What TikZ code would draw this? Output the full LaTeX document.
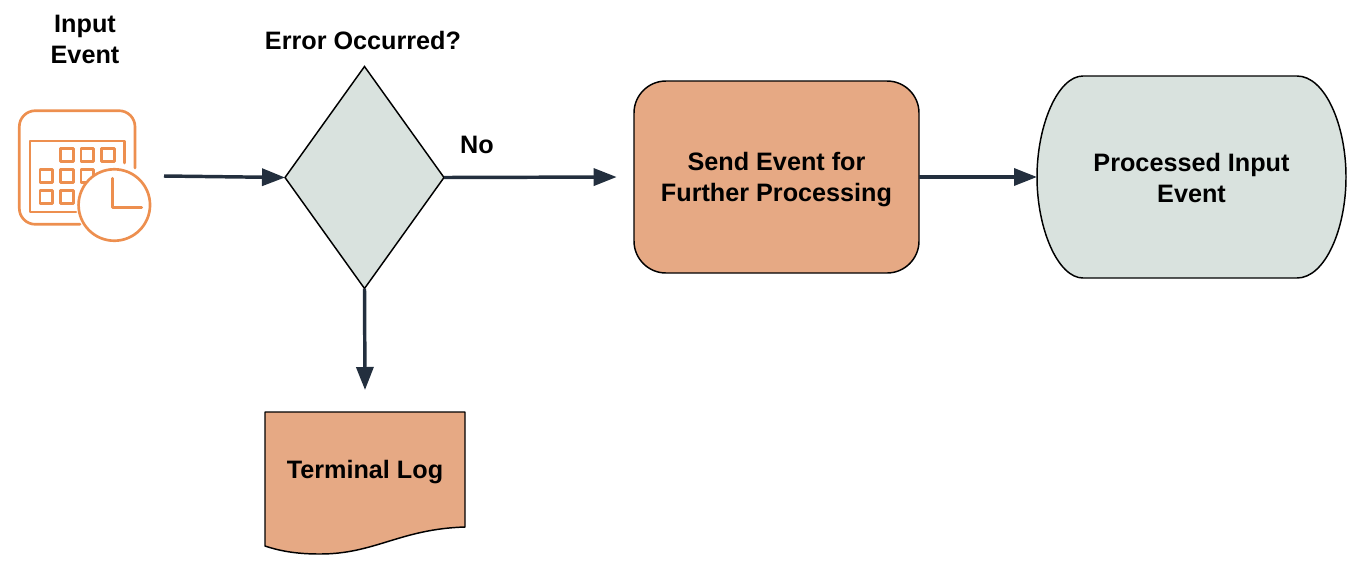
\documentclass[tikz,border=0pt]{standalone}
\usepackage{fontspec}
\setmainfont{Liberation Sans}
\usetikzlibrary{shapes.geometric,arrows.meta}
\definecolor{peach}{HTML}{E6A984}
\definecolor{sage}{HTML}{D9E2DE}
\definecolor{arrowdark}{HTML}{232F3E}
\definecolor{iconorange}{HTML}{ED8F4F}
\tikzset{
  every node/.style={outer sep=0pt,inner sep=0pt},
  lbl/.style={font=\bfseries\fontsize{18.9}{23.25}\selectfont,align=center,text=black},
  outline/.style={draw=black,line width=1.1pt},
  conn/.style={draw=arrowdark,line width=2.6pt,-{Triangle[length=17.25pt,width=12.75pt]}},
  icon/.style={draw=iconorange,line width=2pt,line join=round},
}
\begin{document}
\begin{tikzpicture}[x=0.75pt,y=-0.75pt]
\useasboundingbox (0,0) rectangle (1356,576);
% calendar-clock icon
\draw[icon,line cap=round,rounded corners=12pt] (135,168) -- (135,110.7) -- (19.3,110.7) -- (19.3,224.3) -- (80,224.3);
\draw[icon,line cap=round] (124.3,163) -- (124.3,141) -- (30,141) -- (30,212) -- (76,212);
\foreach \xa/\ya in {60.7/148.3,81/148.3,101.7/148.3,40/169.2,60.7/169.2,81/169.2,40/190.3,60.7/190.3}
  \draw[icon] (\xa,\ya) rectangle +(12.8,13.4);
\draw[icon,fill=white] (114.3,205) circle[radius=26.8pt];
\draw[icon,line cap=round] (112.7,178.3) -- (112.7,207.3) -- (141.7,207.3);
% nodes
\coordinate (iconout) at (164,176);
\node[lbl] (inputlbl) at (85,39.5) {Input\\Event};
\node[diamond,draw=black,line width=1.1pt,fill=sage,minimum width=119.25pt,minimum height=166.5pt] (dec) at (364.5,177.5) {};
\node[lbl] (errlbl) at (363,40) {Error Occurred?};
\node[lbl] (nolbl) at (477,145) {No};
\coordinate (sendin) at (616.7,177);
\node[rectangle,rounded corners=24pt,outline,fill=peach,minimum width=213.75pt,minimum height=144pt] (send) at (776.5,177) {};
\node[lbl] (sendlbl) at (776.5,180) {Send Event for\\Further Processing};
% terminator
\node[minimum width=231.75pt,minimum height=151.5pt] (proc) at (1191.5,177) {};
\draw[outline,fill=sage] (1083,76) -- (1297,76)
  .. controls (1325,76) and (1346,125) .. (1346,177)
  .. controls (1346,229) and (1325,278) .. (1297,278)
  -- (1083,278)
  .. controls (1058,278) and (1037,229) .. (1037,177)
  .. controls (1037,125) and (1058,76) .. (1083,76) -- cycle;
\node[lbl] (proclbl) at (1191.5,178) {Processed Input\\Event};
% document
\coordinate (login) at (365,390);
\draw[outline,fill=peach,line join=round] (265,412) -- (465,412) -- (465,527)
  .. controls (400,529) and (375,554) .. (320,554)
  .. controls (300,554) and (283,552) .. (265,546) -- cycle;
\node[lbl] (loglbl) at (365,472.5) {Terminal Log};
% connectors
\draw[conn] (iconout) -- (dec.west);
\draw[conn] (dec.east) -- (sendin);
\draw[conn] (send.east) -- (proc.west);
\draw[conn] (dec.south) -- (login);
\end{tikzpicture}
\end{document}
